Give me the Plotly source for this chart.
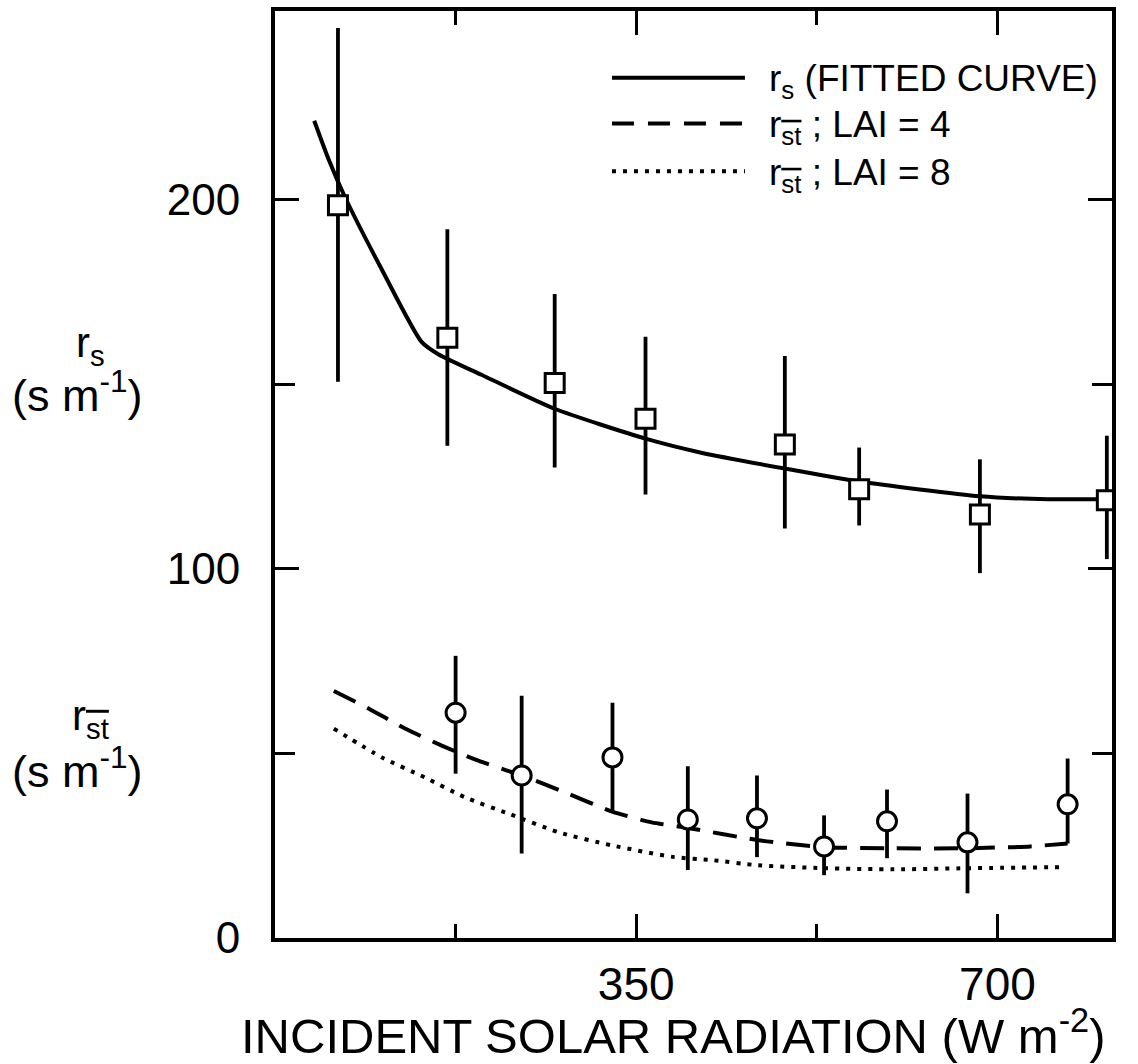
import plotly.graph_objects as go

# ---- data ----
fit_x = [38, 52, 68, 103.5, 142, 158.6, 200, 271, 359, 413, 494, 566, 683, 749, 797]
fit_y = [221.3, 210.8, 200.5, 181, 161.4, 158.0, 152.5, 143.3, 135.2, 131.4, 127.1, 123.6, 119.6, 118.8, 118.8]

lai4_x = [57, 91, 126, 161.5, 197, 239, 284, 326, 365, 400, 468, 532, 592, 671, 732, 768]
lai4_y = [66.9, 62.1, 56.7, 52.1, 48, 44, 39.1, 34.3, 31.3, 29.8, 26.5, 24.6, 24.3, 24.3, 24.8, 25.6]

lai8_x = [57, 103.5, 145, 184, 226, 275, 326, 387, 423, 468, 532, 600, 671, 764]
lai8_y = [56.7, 48.9, 43.5, 38.1, 33.7, 28.6, 25.1, 21.9, 21.1, 19.7, 18.9, 18.6, 18.9, 19.2]

rs_x = [61, 167, 271, 359, 494, 566, 683, 806]
rs_y = [198.4, 162.5, 150.3, 140.6, 133.6, 121.5, 114.7, 118.5]
rs_err_up = [48, 29.4, 24.1, 22.2, 24, 11.3, 14.9, 17.5]
rs_err_dn = [47.8, 29.2, 22.9, 20.5, 22.7, 9.8, 15.9, 15.9]

rst_x = [175, 239, 327, 400, 467, 532, 593, 671, 768]
rst_y = [61, 44, 48.9, 32.1, 32.4, 24.8, 31.6, 25.9, 36.2]
rst_err_up = [15.4, 21.6, 14.8, 14.4, 11.6, 8.4, 8.6, 13.2, 12.4]
rst_err_dn = [16.5, 21.1, 14.6, 13.7, 10.5, 7.8, 10.0, 13.8, 10.6]

x_ticks = [350, 700]
x_minor = [175, 525]
y_ticks = [0, 100, 200]
y_minor = [50, 150]

OVER = "<span style='text-decoration:overline'>st</span>"
legend_labels = [
    "r<sub>s</sub> (FITTED CURVE)",
    "r<sub>" + OVER + "</sub> ; LAI = 4",
    "r<sub>" + OVER + "</sub> ; LAI = 8",
]

NARROW = "Liberation Sans Narrow, Arial Narrow, Liberation Sans, Arial, sans-serif"
SANS = "Liberation Sans, Arial, sans-serif"

fig = go.Figure()

fig.add_trace(go.Scatter(x=fit_x, y=fit_y, mode="lines",
                         line=dict(color="black", width=4, shape="spline", smoothing=0.6),
                         showlegend=False, hoverinfo="skip"))
fig.add_trace(go.Scatter(x=lai4_x, y=lai4_y, mode="lines",
                         line=dict(color="black", width=4, dash="24px,13px", shape="spline", smoothing=0.6),
                         showlegend=False, hoverinfo="skip"))
fig.add_trace(go.Scatter(x=lai8_x, y=lai8_y, mode="lines",
                         line=dict(color="black", width=4, dash="4px,7px", shape="spline", smoothing=0.6),
                         showlegend=False, hoverinfo="skip"))

fig.add_trace(go.Scatter(x=rs_x, y=rs_y, mode="markers",
                         marker=dict(symbol="square", size=19, color="white",
                                     line=dict(color="black", width=3)),
                         error_y=dict(type="data", symmetric=False, array=rs_err_up,
                                      arrayminus=rs_err_dn, color="black", thickness=3.8, width=0),
                         showlegend=False, hoverinfo="skip"))
fig.add_trace(go.Scatter(x=rst_x, y=rst_y, mode="markers",
                         marker=dict(symbol="circle", size=19, color="white",
                                     line=dict(color="black", width=3)),
                         error_y=dict(type="data", symmetric=False, array=rst_err_up,
                                      arrayminus=rst_err_dn, color="black", thickness=3.8, width=0),
                         showlegend=False, hoverinfo="skip"))

# ---- manual legend ----
leg_y = [0.928, 0.8786, 0.8271]
leg_dash = ["solid", "22px,14px", "4px,7px"]
for yy, dsh, lab in zip(leg_y, leg_dash, legend_labels):
    fig.add_shape(type="line", xref="paper", yref="paper", x0=0.4026, x1=0.5615, y0=yy, y1=yy,
                  line=dict(color="black", width=4, dash=dsh))
    fig.add_annotation(xref="paper", yref="paper", x=0.588, y=yy - 0.004, xanchor="left", yanchor="middle",
                       text=lab, showarrow=False, font=dict(family=SANS, size=37, color="black"))

# ---- y-axis titles ----
ylab_font = dict(family=SANS, size=45, color="black")
r_font = dict(family=SANS, size=42, color="black")
fig.add_annotation(xref="paper", yref="paper", x=-0.221, y=0.639, xanchor="center", yanchor="middle",
                   text="r<sub>s</sub>", showarrow=False, font=r_font)
fig.add_annotation(xref="paper", yref="paper", x=-0.2354, y=0.5885, xanchor="center", yanchor="middle",
                   text="(s m<sup>-1</sup>)", showarrow=False, font=ylab_font)
fig.add_annotation(xref="paper", yref="paper", x=-0.221, y=0.2363, xanchor="center", yanchor="middle",
                   text="r<sub>" + OVER + "</sub>", showarrow=False, font=r_font)
fig.add_annotation(xref="paper", yref="paper", x=-0.2354, y=0.1834, xanchor="center", yanchor="middle",
                   text="(s m<sup>-1</sup>)", showarrow=False, font=ylab_font)

# ---- x-axis title ----
fig.add_annotation(xref="paper", yref="paper", x=0.476, y=-0.101, xanchor="center", yanchor="middle",
                   text="INCIDENT SOLAR RADIATION (W m<sup>-2</sup>)", showarrow=False,
                   font=dict(family=NARROW, size=49, color="black"))

fig.update_xaxes(range=[0, 811], tickmode="array", tickvals=x_ticks, ticktext=[str(v) for v in x_ticks],
                 ticks="inside", ticklen=24, tickwidth=3, tickcolor="black",
                 minor=dict(tickmode="array", tickvals=x_minor, ticks="inside", ticklen=14, tickwidth=3,
                            tickcolor="black"),
                 showline=True, linewidth=4, linecolor="black", mirror="ticks",
                 showgrid=False, zeroline=False,
                 tickfont=dict(family=NARROW, size=46, color="black"), ticklabelstandoff=3)
fig.update_yaxes(range=[0, 251], tickmode="array", tickvals=y_ticks, ticktext=[str(v) for v in y_ticks],
                 ticks="inside", ticklen=24, tickwidth=3, tickcolor="black",
                 minor=dict(tickmode="array", tickvals=y_minor, ticks="inside", ticklen=20, tickwidth=3,
                            tickcolor="black"),
                 showline=True, linewidth=4, linecolor="black", mirror="ticks",
                 showgrid=False, zeroline=False,
                 tickfont=dict(family=SANS, size=44, color="black"), ticklabelstandoff=22)

fig.update_layout(width=1138, height=1064, margin=dict(l=275, r=26, t=7, b=126),
                  paper_bgcolor="white", plot_bgcolor="white", showlegend=False)

fig.write_html("out.html", config={"displayModeBar": False},
               post_script="document.body.style.margin='0';document.body.style.overflow='hidden';")
